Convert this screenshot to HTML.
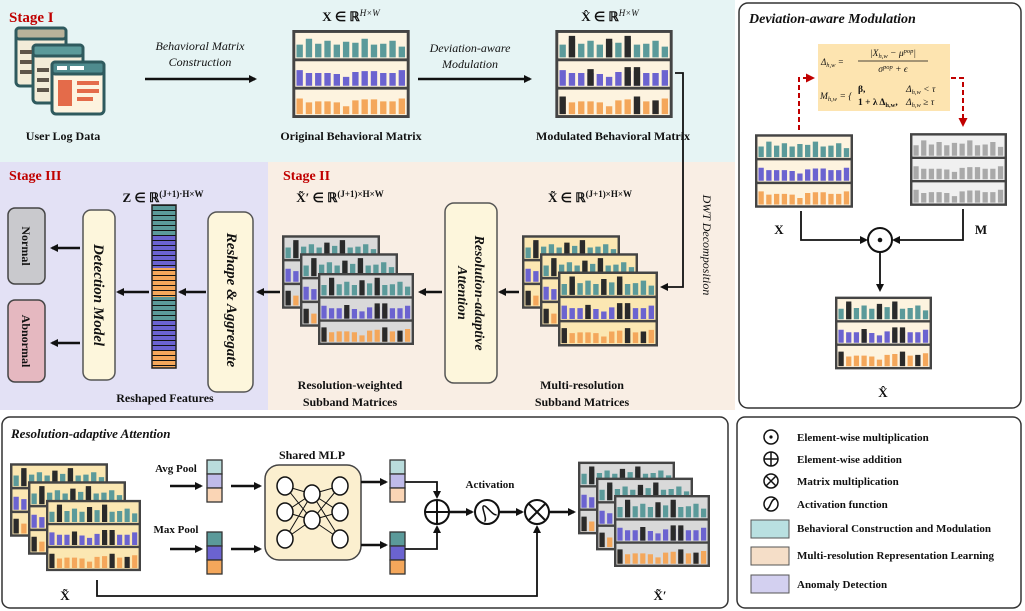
<!DOCTYPE html>
<html><head><meta charset="utf-8"><style>
html,body{margin:0;padding:0;background:#fff}
svg{display:block}
text{font-family:"Liberation Serif",serif;font-weight:bold;fill:#111}
.it{font-style:italic;font-weight:normal}
.bi{font-style:italic;font-weight:bold}
.red{fill:#c00000}
</style></head><body>
<svg width="1025" height="611" viewBox="0 0 1025 611" xmlns="http://www.w3.org/2000/svg">
<defs>
<marker id="ah" markerWidth="8" markerHeight="8" refX="6" refY="4" orient="auto" markerUnits="userSpaceOnUse"><path d="M0,0 L8,4 L0,8 z" fill="#111"/></marker>
<marker id="ahr" markerWidth="9" markerHeight="9" refX="6" refY="4.5" orient="auto" markerUnits="userSpaceOnUse"><path d="M0,0 L9,4.5 L0,9 z" fill="#c00000"/></marker>
<path id="b1" d="M7.5 28V15M17 28V9M26.5 28V14M36 28V11M45.5 28V15M55 28V12M64.5 28V13M74 28V9M83.5 28V15M93 28V14M102.5 28V11M112 28V17"/>
<path id="b2" d="M7.5 57V41M17 57V44M26.5 57V44M36 57V44M45.5 57V45M55 57V48M64.5 57V43M74 57V42M83.5 57V42M93 57V44M102.5 57V44M112 57V41"/>
<path id="b3" d="M7.5 86V70M17 86V74M26.5 86V73M36 86V73M45.5 86V74M55 86V78M64.5 86V72M74 86V71M83.5 86V71M93 86V73M102.5 86V73M112 86V70"/>
<path id="bk" d="M17 28V6M55 28V9M74 28V6M36 57V40M74 57V38M83.5 57V38M7.5 86V68M83.5 86V68M102.5 86V72"/>
<g id="fr"><path d="M1.5 30.5H118.5M1.5 59.5H118.5" stroke="#444" stroke-width="3"/><rect x="1.5" y="1.5" width="117" height="87" fill="none" stroke="#444" stroke-width="3"/></g>
<symbol id="mX" viewBox="0 0 120 90"><rect x="1.5" y="1.5" width="117" height="87" fill="#fdf3df"/>
<use href="#b1" stroke="#5b9a9a" stroke-width="6.5"/><use href="#b2" stroke="#6b63d0" stroke-width="6.5"/><use href="#b3" stroke="#f4a75b" stroke-width="6.5"/><use href="#fr"/></symbol>
<symbol id="mH" viewBox="0 0 120 90"><rect x="1.5" y="1.5" width="117" height="87" fill="#fdf3df"/>
<use href="#b1" stroke="#5b9a9a" stroke-width="6.5"/><use href="#b2" stroke="#6b63d0" stroke-width="6.5"/><use href="#b3" stroke="#f4a75b" stroke-width="6.5"/><use href="#bk" stroke="#2a2a2a" stroke-width="6.5"/><use href="#fr"/></symbol>
<symbol id="mM" viewBox="0 0 120 90"><rect x="1.5" y="1.5" width="117" height="87" fill="#f0f0f0"/>
<use href="#b1" stroke="#a9a9a9" stroke-width="6.5"/><use href="#b2" stroke="#a9a9a9" stroke-width="6.5"/><use href="#b3" stroke="#a9a9a9" stroke-width="6.5"/><use href="#fr"/></symbol>
<symbol id="mY" viewBox="0 0 120 90"><rect x="1.5" y="1.5" width="117" height="87" fill="#fbe7b2"/>
<use href="#b1" stroke="#5b9a9a" stroke-width="6.5"/><use href="#b2" stroke="#6b63d0" stroke-width="6.5"/><use href="#b3" stroke="#f4a75b" stroke-width="6.5"/><use href="#bk" stroke="#2a2a2a" stroke-width="6.5"/><use href="#fr"/></symbol>
<symbol id="mG" viewBox="0 0 120 90"><rect x="1.5" y="1.5" width="117" height="87" fill="#d9d9d9"/>
<use href="#b1" stroke="#5b9a9a" stroke-width="6.5"/><use href="#b2" stroke="#6b63d0" stroke-width="6.5"/><use href="#b3" stroke="#f4a75b" stroke-width="6.5"/><use href="#bk" stroke="#2a2a2a" stroke-width="6.5"/><use href="#fr"/></symbol>
<pattern id="stripe" width="10" height="5" patternUnits="userSpaceOnUse"><rect width="10" height="5" fill="none"/><path d="M0 0.5H10" stroke="#111" stroke-width="1"/></pattern>
</defs>

<rect x="0" y="0" width="735" height="162" fill="#e6f4f4"/>
<rect x="0" y="162" width="268" height="248" fill="#e3e1f5"/>
<rect x="268" y="162" width="467" height="248" fill="#f9eee4"/>
<text x="9" y="22" class="red" font-size="15">Stage I</text>
<text x="9" y="180" class="red" font-size="14">Stage III</text>
<text x="283" y="180" class="red" font-size="14">Stage II</text>

<g stroke="#2f5a5e" stroke-width="3">
<rect x="16" y="28" width="50" height="58" rx="4" fill="#f3ecd8"/>
<rect x="16" y="28" width="50" height="11" rx="3" fill="#b9b29a"/>
<rect x="33" y="45" width="50" height="58" rx="4" fill="#f3ecd8"/>
<rect x="33" y="45" width="50" height="11" rx="3" fill="#5b9a9a"/>
<rect x="52" y="62" width="52" height="52" rx="4" fill="#fdf3df"/>
<rect x="52" y="62" width="52" height="12" rx="3" fill="#4f8b8e"/>
</g>
<g fill="#5e554a"><rect x="20" y="50" width="12" height="4"/><rect x="20" y="60" width="12" height="4"/><rect x="20" y="70" width="12" height="4"/><rect x="37" y="68" width="12" height="4"/><rect x="37" y="78" width="12" height="4"/><rect x="37" y="88" width="12" height="4"/></g>
<g fill="#fff"><rect x="57" y="66" width="10" height="4"/><rect x="70" y="66" width="14" height="4"/></g>
<rect x="58" y="80" width="14" height="26" fill="#e46b4a"/>
<g fill="#e46b4a"><rect x="77" y="81" width="22" height="4"/><rect x="77" y="89" width="22" height="4"/><rect x="77" y="97" width="16" height="4"/></g>
<text x="63" y="140" font-size="12" text-anchor="middle">User Log Data</text>

<line x1="145" y1="79" x2="255" y2="79" stroke="#111" stroke-width="2.5" marker-end="url(#ah)"/>
<text x="200" y="50" class="it" font-size="12" text-anchor="middle">Behavioral Matrix</text>
<text x="200" y="66" class="it" font-size="12" text-anchor="middle">Construction</text>

<text x="351" y="21" font-size="13" text-anchor="middle">X ∈ ℝ<tspan font-size="9" dy="-5" class="it">H×W</tspan></text>
<use href="#mX" x="290" y="30" width="122" height="88"/>
<text x="351" y="140" font-size="12" text-anchor="middle">Original Behavioral Matrix</text>

<line x1="418" y1="79" x2="530" y2="79" stroke="#111" stroke-width="2.5" marker-end="url(#ah)"/>
<text x="470" y="52" class="it" font-size="12" text-anchor="middle">Deviation-aware</text>
<text x="470" y="68" class="it" font-size="12" text-anchor="middle">Modulation</text>

<text x="610" y="21" font-size="13" text-anchor="middle">X̂ ∈ ℝ<tspan font-size="9" dy="-5" class="it">H×W</tspan></text>
<use href="#mH" x="553" y="30" width="122" height="88"/>
<text x="613" y="140" font-size="12" text-anchor="middle">Modulated Behavioral Matrix</text>

<polyline points="675,73 683,73 683,287 662,287" fill="none" stroke="#111" stroke-width="1.8" marker-end="url(#ah)"/>
<text transform="translate(703,245) rotate(90)" class="it" font-size="12" text-anchor="middle">DWT Decomposition</text>

<text x="590" y="202" font-size="13" text-anchor="middle">X̃ ∈ ℝ<tspan font-size="9" dy="-5">(J+1)×H×W</tspan></text>
<use href="#mY" x="522" y="228" width="98" height="88"/>
<use href="#mY" x="540" y="246" width="98" height="88"/>
<use href="#mY" x="558" y="265" width="100" height="88"/>
<text x="582" y="389" font-size="12" text-anchor="middle">Multi-resolution</text>
<text x="582" y="406" font-size="12" text-anchor="middle">Subband Matrices</text>

<line x1="519" y1="292" x2="500" y2="292" stroke="#111" stroke-width="2.5" marker-end="url(#ah)"/>
<rect x="445" y="203" width="52" height="180" rx="9" fill="#fdf6dc" stroke="#555" stroke-width="1.5"/>
<text transform="translate(475,293) rotate(90)" class="bi" font-size="14" text-anchor="middle">Resolution-adaptive</text>
<text transform="translate(458,293) rotate(90)" class="bi" font-size="14" text-anchor="middle">Attention</text>
<line x1="442" y1="292" x2="420" y2="292" stroke="#111" stroke-width="2.5" marker-end="url(#ah)"/>

<text x="340" y="202" font-size="13" text-anchor="middle">X̃′ ∈ ℝ<tspan font-size="9" dy="-5">(J+1)×H×W</tspan></text>
<use href="#mG" x="282" y="228" width="98" height="88"/>
<use href="#mG" x="300" y="246" width="98" height="88"/>
<use href="#mG" x="318" y="265" width="96" height="88"/>
<text x="350" y="389" font-size="12" text-anchor="middle">Resolution-weighted</text>
<text x="350" y="406" font-size="12" text-anchor="middle">Subband Matrices</text>

<line x1="280" y1="292" x2="258" y2="292" stroke="#111" stroke-width="2.5" marker-end="url(#ah)"/>
<rect x="208" y="212" width="45" height="180" rx="9" fill="#fdf6dc" stroke="#555" stroke-width="1.5"/>
<text transform="translate(232,300) rotate(90)" class="bi" font-size="15" text-anchor="middle" dy="5">Reshape &amp; Aggregate</text>

<text x="163" y="202" font-size="13" text-anchor="middle">Z ∈ ℝ<tspan font-size="9" dy="-5">(J+1)·H×W</tspan></text>
<rect x="152" y="205" width="24" height="30" fill="#5b9a9a"/>
<rect x="152" y="235" width="24" height="33" fill="#6b63d0"/>
<rect x="152" y="268" width="24" height="29" fill="#f4a75b"/>
<rect x="152" y="297" width="24" height="24" fill="#5b9a9a"/>
<rect x="152" y="321" width="24" height="30" fill="#6b63d0"/>
<rect x="152" y="351" width="24" height="17" fill="#f4a75b"/>
<rect x="152" y="205" width="24" height="163" fill="url(#stripe)" stroke="#222" stroke-width="1.5"/>
<line x1="206" y1="292" x2="180" y2="292" stroke="#111" stroke-width="2.5" marker-end="url(#ah)"/>
<line x1="149" y1="292" x2="118" y2="292" stroke="#111" stroke-width="2.5" marker-end="url(#ah)"/>
<rect x="83" y="210" width="32" height="170" rx="8" fill="#fdf6dc" stroke="#555" stroke-width="1.5"/>
<text transform="translate(99,295) rotate(90)" class="bi" font-size="15" text-anchor="middle" dy="5">Detection Model</text>
<rect x="8" y="208" width="37" height="76" rx="7" fill="#c9c9cd" stroke="#444" stroke-width="1.5"/>
<text transform="translate(26,246) rotate(90)" font-size="12" text-anchor="middle" dy="4">Normal</text>
<rect x="8" y="300" width="37" height="82" rx="7" fill="#e5b8c0" stroke="#444" stroke-width="1.5"/>
<text transform="translate(26,341) rotate(90)" font-size="12" text-anchor="middle" dy="4">Abnormal</text>
<line x1="80" y1="248" x2="52" y2="248" stroke="#111" stroke-width="2.5" marker-end="url(#ah)"/>
<line x1="80" y1="343" x2="52" y2="343" stroke="#111" stroke-width="2.5" marker-end="url(#ah)"/>
<text x="165" y="402" font-size="12" text-anchor="middle">Reshaped Features</text>

<rect x="739" y="3" width="282" height="405" rx="9" fill="#fff" stroke="#333" stroke-width="1.5"/>
<text x="749" y="23" class="bi" font-size="14">Deviation-aware Modulation</text>
<rect x="818" y="44" width="132" height="67" fill="#fde4b0"/>
<text x="821" y="65" font-size="9" class="it">Δ<tspan font-size="6.5" dy="2">h,w</tspan><tspan dy="-2"> =</tspan></text>
<text x="893" y="56" font-size="9.5" class="it" text-anchor="middle">|X<tspan font-size="6.5" dy="2">h,w</tspan><tspan dy="-2"> − μ</tspan><tspan font-size="6.5" dy="-3">pop</tspan><tspan dy="3">|</tspan></text>
<line x1="858" y1="61" x2="928" y2="61" stroke="#111" stroke-width="0.8"/>
<text x="893" y="72" font-size="9.5" class="it" text-anchor="middle">σ<tspan font-size="6.5" dy="-3">pop</tspan><tspan dy="3"> + ϵ</tspan></text>
<text x="820" y="99" font-size="9.5" class="it">M<tspan font-size="6.5" dy="2">h,w</tspan><tspan dy="-2"> = {</tspan></text>
<text x="858" y="92" font-size="9.5">β,</text>
<text x="858" y="105" font-size="9.5">1 + λ Δ<tspan font-size="6.5" dy="2">h,w</tspan><tspan dy="-2">,</tspan></text>
<text x="906" y="92" font-size="9.5" class="it">Δ<tspan font-size="6.5" dy="2">h,w</tspan><tspan dy="-2"> &lt; τ</tspan></text>
<text x="906" y="105" font-size="9.5" class="it">Δ<tspan font-size="6.5" dy="2">h,w</tspan><tspan dy="-2"> ≥ τ</tspan></text>
<polyline points="799,130 799,78 812,78" fill="none" stroke="#c00000" stroke-width="2" stroke-dasharray="5,3" marker-end="url(#ahr)"/>
<polyline points="951,78 963,78 963,124" fill="none" stroke="#c00000" stroke-width="2" stroke-dasharray="5,3" marker-end="url(#ahr)"/>
<use href="#mX" x="755" y="131" width="98" height="80"/>
<use href="#mM" x="910" y="130" width="97" height="79"/>
<text x="779" y="234" font-size="13" text-anchor="middle">X</text>
<text x="981" y="234" font-size="13" text-anchor="middle">M</text>
<polyline points="801,211 801,240 866,240" fill="none" stroke="#111" stroke-width="1.8" marker-end="url(#ah)"/>
<polyline points="963,209 963,240 894,240" fill="none" stroke="#111" stroke-width="1.8" marker-end="url(#ah)"/>
<circle cx="880" cy="240" r="12" fill="#fff" stroke="#111" stroke-width="2"/>
<circle cx="880" cy="240" r="2.3" fill="#111"/>
<line x1="880" y1="252" x2="880" y2="290" stroke="#111" stroke-width="1.8" marker-end="url(#ah)"/>
<use href="#mH" x="835" y="293" width="97" height="80"/>
<text x="883" y="397" font-size="13" text-anchor="middle">X̂</text>

<rect x="2" y="417" width="726" height="191" rx="8" fill="#fff" stroke="#333" stroke-width="1.5"/>
<text x="11" y="438" class="bi" font-size="13">Resolution-adaptive Attention</text>
<use href="#mY" x="10" y="455" width="98" height="90"/>
<use href="#mY" x="28" y="473" width="98" height="90"/>
<use href="#mY" x="46" y="491" width="95" height="89"/>
<text x="65" y="600" font-size="13" text-anchor="middle">X̃</text>
<text x="176" y="472" font-size="11" text-anchor="middle" font-weight="normal">Avg Pool</text>
<text x="176" y="533" font-size="11" text-anchor="middle" font-weight="normal">Max Pool</text>
<line x1="170" y1="486" x2="201" y2="486" stroke="#111" stroke-width="2.5" marker-end="url(#ah)"/>
<line x1="170" y1="549" x2="201" y2="549" stroke="#111" stroke-width="2.5" marker-end="url(#ah)"/>
<g stroke="#333" stroke-width="1.3">
<rect x="207" y="460" width="15" height="14" fill="#b9dcdc"/><rect x="207" y="474" width="15" height="14" fill="#bfbbe9"/><rect x="207" y="488" width="15" height="14" fill="#fad5b5"/>
<rect x="207" y="532" width="15" height="14" fill="#5b9a9a"/><rect x="207" y="546" width="15" height="14" fill="#6b63d0"/><rect x="207" y="560" width="15" height="14" fill="#f4a75b"/>
<rect x="390" y="460" width="15" height="14" fill="#b9dcdc"/><rect x="390" y="474" width="15" height="14" fill="#bfbbe9"/><rect x="390" y="488" width="15" height="14" fill="#fad5b5"/>
<rect x="390" y="532" width="15" height="14" fill="#5b9a9a"/><rect x="390" y="546" width="15" height="14" fill="#6b63d0"/><rect x="390" y="560" width="15" height="14" fill="#f4a75b"/>
</g>
<line x1="231" y1="486" x2="260" y2="486" stroke="#111" stroke-width="2.5" marker-end="url(#ah)"/>
<line x1="231" y1="549" x2="260" y2="549" stroke="#111" stroke-width="2.5" marker-end="url(#ah)"/>
<text x="312" y="459" font-size="12" text-anchor="middle">Shared MLP</text>
<rect x="265" y="465" width="96" height="95" rx="14" fill="#fbefcf" stroke="#444" stroke-width="1.5"/>
<g stroke="#111" stroke-width="1">
<path d="M285 486L312 494M285 486L312 520M285 512L312 494M285 512L312 520M285 539L312 494M285 539L312 520M312 494L340 486M312 494L340 512M312 494L340 539M312 520L340 486M312 520L340 512M312 520L340 539"/>
</g>
<g fill="#fff" stroke="#111" stroke-width="1.5">
<ellipse cx="285" cy="486" rx="8" ry="9"/><ellipse cx="285" cy="512" rx="8" ry="9"/><ellipse cx="285" cy="539" rx="8" ry="9"/>
<ellipse cx="312" cy="494" rx="8" ry="9"/><ellipse cx="312" cy="520" rx="8" ry="9"/>
<ellipse cx="340" cy="486" rx="8" ry="9"/><ellipse cx="340" cy="512" rx="8" ry="9"/><ellipse cx="340" cy="539" rx="8" ry="9"/>
</g>
<line x1="361" y1="482" x2="386" y2="482" stroke="#111" stroke-width="2.5" marker-end="url(#ah)"/>
<line x1="361" y1="545" x2="386" y2="545" stroke="#111" stroke-width="2.5" marker-end="url(#ah)"/>
<polyline points="405,482 437,482 437,497" fill="none" stroke="#111" stroke-width="1.8" marker-end="url(#ah)"/>
<polyline points="405,549 437,549 437,527" fill="none" stroke="#111" stroke-width="1.8" marker-end="url(#ah)"/>
<circle cx="437" cy="512" r="12" fill="#fff" stroke="#111" stroke-width="2"/>
<path d="M425 512H449M437 500V524" stroke="#111" stroke-width="2"/>
<line x1="449" y1="512" x2="472" y2="512" stroke="#111" stroke-width="2.5" marker-end="url(#ah)"/>
<text x="490" y="488" font-size="11" text-anchor="middle">Activation</text>
<circle cx="487" cy="512" r="12" fill="#fff" stroke="#111" stroke-width="2"/>
<path d="M480 519C484 519 484 505 487 505C490 505 490 519 494 519" fill="none" stroke="#111" stroke-width="1.5" transform="rotate(-30 487 512)"/>
<line x1="499" y1="512" x2="522" y2="512" stroke="#111" stroke-width="2.5" marker-end="url(#ah)"/>
<circle cx="537" cy="512" r="12" fill="#fff" stroke="#111" stroke-width="2"/>
<path d="M528.5 503.5L545.5 520.5M545.5 503.5L528.5 520.5" stroke="#111" stroke-width="2"/>
<polyline points="97,580 97,596 537,596 537,527" fill="none" stroke="#111" stroke-width="1.8" marker-end="url(#ah)"/>
<line x1="549" y1="512" x2="574" y2="512" stroke="#111" stroke-width="2.5" marker-end="url(#ah)"/>
<use href="#mG" x="578" y="455" width="97" height="86"/>
<use href="#mG" x="596" y="471" width="97" height="86"/>
<use href="#mG" x="614" y="487" width="96" height="88"/>
<text x="660" y="600" font-size="13" text-anchor="middle">X̃′</text>

<rect x="737" y="417" width="284" height="191" rx="8" fill="#fff" stroke="#333" stroke-width="1.5"/>
<circle cx="771" cy="437" r="7" fill="none" stroke="#111" stroke-width="1.5"/><circle cx="771" cy="437" r="1.6" fill="#111"/>
<circle cx="771" cy="459" r="7" fill="none" stroke="#111" stroke-width="1.5"/><path d="M764 459H778M771 452V466" stroke="#111" stroke-width="1.5"/>
<circle cx="771" cy="481" r="7" fill="none" stroke="#111" stroke-width="1.5"/><path d="M766 476L776 486M776 476L766 486" stroke="#111" stroke-width="1.5"/>
<circle cx="771" cy="504" r="7" fill="none" stroke="#111" stroke-width="1.5"/><path d="M767 509C770 509 771 499 775 499" fill="none" stroke="#111" stroke-width="1.5"/>
<g font-size="11"><text x="797" y="441">Element-wise multiplication</text>
<text x="797" y="463">Element-wise addition</text>
<text x="797" y="485">Matrix multiplication</text>
<text x="797" y="508">Activation function</text>
<text x="797" y="532">Behavioral Construction and Modulation</text>
<text x="797" y="559">Multi-resolution Representation Learning</text>
<text x="797" y="588">Anomaly Detection</text></g>
<rect x="751" y="520" width="38" height="18" fill="#b9e0e1" stroke="#555"/>
<rect x="751" y="547" width="38" height="18" fill="#f5dec8" stroke="#555"/>
<rect x="751" y="575" width="38" height="18" fill="#d3d0f0" stroke="#555"/>
</svg>
</body></html>
